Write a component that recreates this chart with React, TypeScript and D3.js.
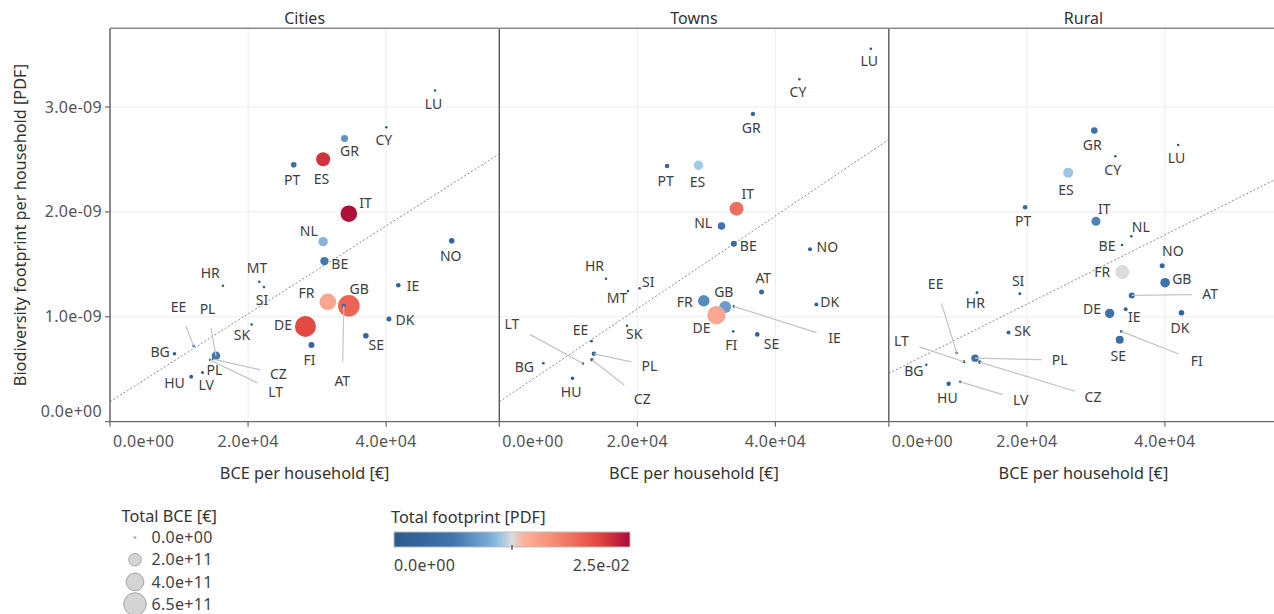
import React from "react";
import * as d3 from "d3";

// ---------------- DATA ----------------
const panelNames = ["Cities", "Towns", "Rural"];
const xTickValues = [0, 20000, 40000];
const yTickValues = [0, 1e-9, 2e-9, 3e-9];
const sizeLegendValues = [0, 2e11, 4e11, 6.5e11];
const colorLegendValues = [0, 0.025];

// trend lines (intercept, slope) per panel
const trendIntercept = [0.19e-9, 0.19e-9, 0.461e-9];
const trendSlope = [4.19e-14, 4.43e-14, 3.3e-14];

// Cities
const citiesCountry = ["DE","GB","IT","FR","ES","NL","PL","BE","GR","FI","PT","NO","SE","DK","IE","AT","HU","BG","CZ","LT","LV","PL","EE","SK","HR","MT","SI","CY","LU"];
const citiesBce = [28310,34600,34600,31560,30880,30880,15350,31070,33980,29185,26620,49510,37070,40410,41770,33880,11760,9340,14940,14500,13400,13400,12100,20520,16360,21630,22310,40030,47090];
const citiesPdf = [0.908e-9,1.105e-9,1.983e-9,1.143e-9,2.502e-9,1.716e-9,0.628e-9,1.531e-9,2.699e-9,0.730e-9,2.450e-9,1.725e-9,0.819e-9,0.978e-9,1.300e-9,1.105e-9,0.428e-9,0.647e-9,0.597e-9,0.588e-9,0.469e-9,0.469e-9,0.723e-9,0.927e-9,1.296e-9,1.334e-9,1.283e-9,2.807e-9,3.157e-9];
const citiesTotalBce = [5.6e11,5.94e11,3.5e11,3.5e11,2.5e11,1.12e11,9.4e10,9.0e10,6.2e10,4.6e10,4.0e10,4.0e10,4.0e10,3.2e10,2.7e10,2.0e10,2.0e10,1.6e10,8e9,8e9,8e9,3e9,5e9,5e9,5e9,5e9,5e9,5e9,5e9];
const citiesFootprint = [0.0215,0.0197,0.0248,0.0147,0.0228,0.0105,0.0065,0.0065,0.0085,0.003,0.005,0.003,0.003,0.003,0.0025,0.002,0.002,0.001,0.0008,0.0008,0.0008,0.0004,0.0005,0.0006,0.0005,0.0004,0.0005,0.0008,0.0005];

// Towns
const townsCountry = ["GB","DE","IT","FR","ES","NL","BE","AT","PT","SE","GR","PL","NO","DK","CZ","HU","IE","FI","LT","SI","SK","EE","BG","HR","MT","CY","LU"];
const townsBce = [32730,31460,34370,29620,28850,32190,33980,38000,24300,37370,36740,13700,45010,45940,13420,10600,33980,33890,12110,20330,18500,13360,6390,15450,18640,43470,53830];
const townsPdf = [1.093e-9,1.016e-9,2.031e-9,1.153e-9,2.445e-9,1.865e-9,1.697e-9,1.236e-9,2.438e-9,0.832e-9,2.934e-9,0.647e-9,1.643e-9,1.118e-9,0.590e-9,0.415e-9,1.099e-9,0.861e-9,0.555e-9,1.271e-9,0.914e-9,0.768e-9,0.558e-9,1.363e-9,1.245e-9,3.265e-9,3.554e-9];
const townsTotalBce = [1.83e11,4.3e11,2.5e11,1.71e11,1.12e11,7.3e10,4.6e10,3.2e10,2.7e10,2.7e10,2.5e10,2.5e10,2e10,2e10,1.6e10,1.6e10,8.6e9,8.6e9,8.6e9,6e9,6e9,6e9,6e9,5e9,5e9,5e9,5e9];
const townsFootprint = [0.0092,0.0146,0.019,0.0078,0.0115,0.006,0.004,0.003,0.003,0.002,0.003,0.002,0.002,0.002,0.001,0.001,0.0008,0.0008,0.0008,0.0006,0.0006,0.0005,0.0005,0.0005,0.0004,0.0008,0.0005];

// Rural
const ruralCountry = ["FR","ES","GB","DE","IT","SE","PL","GR","AT","DK","NO","PT","HU","IE","SK","CZ","SI","HR","FI","LT","NL","BE","EE","BG","LV","CY","LU"];
const ruralBce = [33830,25990,40030,32000,30010,33450,12490,29770,35200,42400,39600,19750,8670,34320,17340,13170,18980,12780,33690,10890,35140,33790,9830,5430,10370,32820,41920];
const ruralPdf = [1.427e-9,2.374e-9,1.325e-9,1.032e-9,1.910e-9,0.781e-9,0.606e-9,2.775e-9,1.204e-9,1.038e-9,1.487e-9,2.044e-9,0.361e-9,1.073e-9,0.851e-9,0.568e-9,1.220e-9,1.229e-9,0.861e-9,0.571e-9,1.767e-9,1.684e-9,0.657e-9,0.542e-9,0.380e-9,2.530e-9,2.638e-9];
const ruralTotalBce = [2.5e11,1.27e11,1.17e11,1.12e11,1.03e11,8.1e10,7e10,5.5e10,4.6e10,4e10,3.2e10,2.7e10,2.5e10,2e10,2e10,1.6e10,1.1e10,1.1e10,1.1e10,1.1e10,8.6e9,8.6e9,8.6e9,8.6e9,8.6e9,6e9,5e9];
const ruralFootprint = [0.0125,0.0113,0.006,0.0058,0.0072,0.0045,0.005,0.0055,0.004,0.003,0.003,0.003,0.002,0.002,0.002,0.0015,0.0008,0.0008,0.0008,0.0008,0.0006,0.0006,0.0005,0.0005,0.0006,0.0007,0.0006];

// ---------------- LABEL LAYOUT (pixel offsets of repelled labels) ----------------
const citiesLabelDx = [-22.3,10.4,16.7,-21.3,-1.7,-14.4,-8.4,15.3,5,-2,-1.6,-1,10.4,16,14.6,-1.6,-16.7,-14.3,65.3,65.5,3.7,12,-15,-9.6,-12.7,-2.3,-2,-2.4,-1.6];
const citiesLabelDy = [-1.3,-16.7,-10.4,-8.4,19.7,-10.7,-46.4,3,13,15,15.3,15.6,9.3,0.7,0.4,75,6.6,-1.4,15,31.7,12.5,-2.5,-39,10.7,-13,-13.4,13.3,13,13.6];
const citiesLeader = [0,0,0,0,0,0,1,0,0,0,0,0,0,0,0,1,0,0,1,1,0,0,1,0,0,0,0,0,0];

const townsLabelDx = [-1.4,-15,11.3,-19,-1,-18.3,14.4,1.7,-1.4,14.3,-1.6,55.6,17.4,13.3,50.3,-1.3,100.7,-2,-71,8.7,7.3,-11,-19,-11.4,-11,-1.4,-1.7];
const townsLabelDy = [-15.3,12.7,-14.7,1,17,-2.7,2,-13.7,15,9.4,14.3,12,-2,-2,39.3,13.7,32,13.7,-39,-6.6,8,-11.3,3.7,-12.7,6.7,13,12.7];
const townsLeader = [0,0,0,0,0,0,0,0,0,0,0,1,0,0,1,0,1,0,1,0,0,0,0,0,0,0,0];

const ruralLabelDx = [-20,-2.3,16.7,-17.7,8.3,-1.4,84.7,-2,78.3,-1.6,10.7,-2,-1.3,8.6,14,113.3,-1.7,-1.6,75.4,-62.6,9.4,-15,-21,-12.4,60.3,-2.6,-1.7];
const ruralLabelDy = [0,17,-3.4,-4.3,-12.3,16.3,2,15,-1,15,-15,13.7,14.6,8.3,-1.6,34.7,-13,10.6,29.7,-21,-9.3,0.7,-68.4,6,18.3,14,13];
const ruralLeader = [0,0,0,0,0,0,1,0,1,0,0,0,0,0,0,1,0,0,1,1,0,0,1,0,1,0,0];

// ---------------- LAYOUT ----------------
const W = 1274;
const H = 614;
const plotTop = 28.3;
const plotBottom = 421.7;
const panelLefts = [110, 499.3, 888.8];
const panelW = 389.3;
const FONT = "'Noto Sans', 'Open Sans', sans-serif";

const fmtExp = (v: number) => v.toExponential(1).replace(/e([+-])(\d)$/, "e$10$2");

const paletteStops = [0, 0.25, 0.4, 0.47, 0.5, 0.53, 0.7, 0.87, 1];
const paletteColors = ["#2c5a8c", "#3f74ad", "#78a9d5", "#a8cfe6", "#dcdcdc", "#fbb7a3", "#f5846d", "#e2463f", "#a90c38"];
const color = d3
  .scaleLinear<string>()
  .domain(paletteStops.map((s) => s * colorLegendValues[1]))
  .range(paletteColors)
  .interpolate(d3.interpolateRgb)
  .clamp(true);

const sizeScale = d3.scaleSqrt().domain([0, 6.5e11]).range([0, 11.3]);
const radius = (v: number) => Math.max(1.3, sizeScale(v));

const yScale = d3.scaleLinear().domain([0, 3.75e-9]).range([plotBottom, plotTop]);

const panelData = [
  { c: citiesCountry, x: citiesBce, y: citiesPdf, s: citiesTotalBce, f: citiesFootprint, dx: citiesLabelDx, dy: citiesLabelDy, ld: citiesLeader },
  { c: townsCountry, x: townsBce, y: townsPdf, s: townsTotalBce, f: townsFootprint, dx: townsLabelDx, dy: townsLabelDy, ld: townsLeader },
  { c: ruralCountry, x: ruralBce, y: ruralPdf, s: ruralTotalBce, f: ruralFootprint, dx: ruralLabelDx, dy: ruralLabelDy, ld: ruralLeader },
];

function leaderEnd(px: number, py: number, lx: number, ly: number): [number, number] {
  const dx = px - lx;
  const dy = py - ly;
  const HW = 18;
  const HH = 19;
  const s = Math.min(dx !== 0 ? HW / Math.abs(dx) : Infinity, dy !== 0 ? HH / Math.abs(dy) : Infinity);
  return [lx + dx * s, ly + dy * s];
}

function Panel({ idx }: { idx: number }) {
  const left = panelLefts[idx];
  const x = d3.scaleLinear().domain([0, 56400]).range([left, left + panelW]);
  const d = panelData[idx];
  const line = d3
    .line<number>()
    .x((v) => x(v))
    .y((v) => yScale(trendIntercept[idx] + trendSlope[idx] * v));
  const idxs = d.c.map((_, i) => i);
  return (
    <g>
      <defs>
        <clipPath id={`clip${idx}`}>
          <rect x={left} y={plotTop} width={panelW} height={plotBottom - plotTop} />
        </clipPath>
      </defs>
      {xTickValues.filter((v) => v > 0).map((v) => (
        <line key={"gx" + v} x1={x(v)} x2={x(v)} y1={plotTop} y2={plotBottom} stroke="#ececec" strokeWidth={1} />
      ))}
      {yTickValues.filter((v) => v > 0).map((v) => (
        <line key={"gy" + v} x1={left} x2={left + panelW} y1={yScale(v)} y2={yScale(v)} stroke="#ececec" strokeWidth={1} />
      ))}
      <text x={left + panelW / 2} y={18} textAnchor="middle" dy="0.35em" fontSize={16} fill="#333">
        {panelNames[idx]}
      </text>
      <path d={line([0, 56400]) || ""} fill="none" stroke="#8a8a8a" strokeWidth={1} strokeDasharray="2,2" clipPath={`url(#clip${idx})`} />
      <g clipPath={`url(#clip${idx})`}>
        {idxs.map((i) => (
          <circle key={"p" + i} cx={x(d.x[i])} cy={yScale(d.y[i])} r={radius(d.s[i])} fill={color(d.f[i])} />
        ))}
      </g>
      {idxs
        .filter((i) => d.ld[i])
        .map((i) => {
          const px = x(d.x[i]);
          const py = yScale(d.y[i]);
          const [ex, ey] = leaderEnd(px, py, px + d.dx[i], py + d.dy[i]);
          return <line key={"l" + i} x1={px} y1={py} x2={ex} y2={ey} stroke="#c4c4c4" strokeWidth={1.2} />;
        })}
      {idxs.map((i) => (
        <text key={"t" + i} x={x(d.x[i]) + d.dx[i]} y={yScale(d.y[i]) + d.dy[i]} dy="0.35em" textAnchor="middle" fontSize={14} fill="#404040">
          {d.c[i]}
        </text>
      ))}
      <line x1={left} x2={left} y1={plotTop} y2={plotBottom} stroke="#5a5a5a" strokeWidth={1.4} />
      <line x1={left} x2={left + panelW} y1={plotBottom} y2={plotBottom} stroke="#6a6a6a" strokeWidth={1.3} />
      {xTickValues.map((v) => (
        <g key={"xt" + v}>
          <line x1={x(v)} x2={x(v)} y1={plotBottom} y2={plotBottom + 5} stroke="#6a6a6a" strokeWidth={1.2} />
          <text
            x={v === 0 ? x(v) + 3 : x(v)}
            y={441.5}
            dy="0.35em"
            textAnchor={v === 0 ? "start" : "middle"}
            fontSize={16}
            letterSpacing={0.3}
            fill="#555"
          >
            {fmtExp(v)}
          </text>
        </g>
      ))}
      <text x={left + panelW / 2} y={473.5} dy="0.35em" textAnchor="middle" fontSize={16.3} fill="#333">
        BCE per household [€]
      </text>
    </g>
  );
}

export default function App() {
  const gradStops = d3.range(0, 1.0001, 0.05);
  const barX0 = 394;
  const barX1 = 630;
  const legendColorX = d3.scaleLinear().domain(colorLegendValues).range([barX0, barX1]);
  return (
    <svg width={W} height={H} style={{ position: "absolute", left: 0, top: 0, display: "block" }} fontFamily={FONT}>
      <rect x={0} y={0} width={W} height={H} fill="#ffffff" />
      <defs>
        <linearGradient id="fpGrad" x1="0" x2="1" y1="0" y2="0">
          {gradStops.map((t) => (
            <stop key={t} offset={t} stopColor={color(t * colorLegendValues[1])} />
          ))}
        </linearGradient>
      </defs>
      {[0, 1, 2].map((i) => (
        <Panel key={i} idx={i} />
      ))}
      <line x1={panelLefts[0]} x2={W} y1={plotTop} y2={plotTop} stroke="#8a8a8a" strokeWidth={1.4} />
      {yTickValues.map((v) => (
        <g key={"yt" + v}>
          <line x1={panelLefts[0] - 5} x2={panelLefts[0]} y1={yScale(v)} y2={yScale(v)} stroke="#6a6a6a" strokeWidth={1.2} />
          <text x={102} y={yScale(v) - (v === 0 ? 10 : 0)} dy="0.35em" textAnchor="end" fontSize={16} letterSpacing={0.3} fill="#555">
            {fmtExp(v)}
          </text>
        </g>
      ))}
      <text transform={`translate(20,${(plotTop + plotBottom) / 2}) rotate(-90)`} textAnchor="middle" dy="0.35em" fontSize={16.3} fill="#333">
        Biodiversity footprint per household [PDF]
      </text>
      <text x={121.5} y={516.5} dy="0.35em" fontSize={16.3} fill="#333">
        Total BCE [€]
      </text>
      {sizeLegendValues.map((v, i) => {
        const cy = 537.5 + i * 22.2;
        return (
          <g key={"sl" + v}>
            <circle cx={135} cy={cy} r={v === 0 ? 1.6 : sizeScale(v)} fill={v === 0 ? "#b5b5b5" : "#d4d4d4"} stroke={v === 0 ? "none" : "#a5a5a5"} strokeWidth={1} />
            <text x={151.5} y={cy} dy="0.35em" fontSize={16} letterSpacing={0.3} fill="#444">
              {fmtExp(v)}
            </text>
          </g>
        );
      })}
      <text x={391} y={517.5} dy="0.35em" fontSize={16.3} fill="#333">
        Total footprint [PDF]
      </text>
      <rect x={barX0} y={532} width={barX1 - barX0} height={15} fill="url(#fpGrad)" stroke="#bdbdbd" strokeWidth={1} />
      <line x1={legendColorX(0.0125)} x2={legendColorX(0.0125)} y1={545} y2={550} stroke="#444" strokeWidth={1.2} />
      <text x={legendColorX(colorLegendValues[0])} y={565} dy="0.35em" textAnchor="start" fontSize={16} letterSpacing={0.3} fill="#444">
        {fmtExp(colorLegendValues[0])}
      </text>
      <text x={legendColorX(colorLegendValues[1])} y={565} dy="0.35em" textAnchor="end" fontSize={16} letterSpacing={0.3} fill="#444">
        {fmtExp(colorLegendValues[1])}
      </text>
    </svg>
  );
}
